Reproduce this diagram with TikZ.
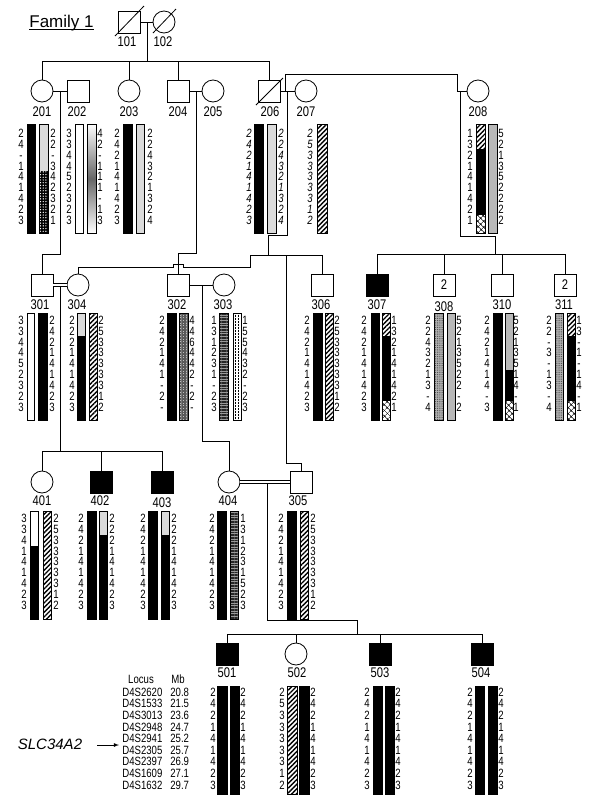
\documentclass[tikz,border=0pt]{standalone}
\usepackage{fontspec}
\usepackage{tikz}
\usetikzlibrary{patterns.meta}
\newfontfamily\narrowsans[FakeStretch=0.8]{Liberation Sans}
\newfontfamily\plainsans{Liberation Sans}
% one column of allele numbers: [style]{name}{x}{first row}{row step}{values}
\newcommand{\alcol}[6][]{%
	\foreach \a [count=\i from 0] in {#6}
		\node[allele,#1] (#2-\i) at (#3,{#4+#5*\i}) {\a};}

\begin{document}
\begin{tikzpicture}[x=1pt,y=-1pt,line width=0.8pt]
		\tikzset{> = latex}
		\tikzset{
			male/.style = {draw, rectangle, minimum size=22pt, inner sep=0pt, line width=0.8pt},
			female/.style = {draw, circle, minimum size=22pt, inner sep=0pt, line width=0.8pt},
			aff/.style = {fill=black},
			idlabel/.style = {font=\narrowsans\fontsize{14}{14}\selectfont, inner sep=0pt, text height=10pt, text depth=0pt},
			allele/.style = {font=\narrowsans\fontsize{12}{12}\selectfont, inner sep=0pt, text height=8.6pt, text depth=0pt},
			inferred/.style = {font=\narrowsans\itshape\fontsize{12}{12}\selectfont},
			locus/.style = {font=\narrowsans\fontsize{12}{12}\selectfont, inner sep=0pt, text height=8.6pt, text depth=0pt},
			hapbar/.style = {draw, line width=0.6pt},
			blk/.style = {fill=black},
			greybar/.style = {fill=black!28},
			stip/.style = {preaction={fill=black!10}, pattern={Dots[radius=0.45pt,distance=2pt]}, pattern color=black!55},
			dstip/.style = {preaction={fill=black!30}, pattern={Dots[radius=0.5pt,distance=1.8pt]}, pattern color=black!75},
			spot/.style = {preaction={fill=black}, pattern={Dots[radius=0.7pt,distance=2.7pt]}, pattern color=white},
			mesh/.style = {preaction={fill=black!25}, pattern={Hatch[distance=1.6pt,line width=0.4pt]}, pattern color=black!65},
			hline/.style = {preaction={fill=black!40}, pattern={Lines[angle=0,distance=1.6pt,line width=0.5pt]}, pattern color=black!85},
			hatch/.style = {preaction={fill=white}, pattern={Lines[angle=45,distance=3.3pt,line width=1.4pt]}},
			xcell/.style = {preaction={fill=white}, pattern={Hatch[angle=45,distance=4pt,line width=0.6pt]}}
		}
		\fill[white] (0,0) rectangle (592,801);
		\useasboundingbox (0,0) rectangle (592,801);

		\node[font=\plainsans\fontsize{17}{17}\selectfont, anchor=base west, inner sep=0pt] (title) at (29,27) {Family 1};
		\draw[line width=0.7pt] ([yshift=-2.5pt]title.base west) -- ([yshift=-2.5pt]title.base east);

		% generation I
		\node[male] (i101) at (129,22) {};
		\node[female] (i102) at (164,22) {};
		\draw (115,36) -- (144,6);
		\draw (153,33) -- (176,9);
		\node[idlabel] (l101) at (127,41) {101};
		\node[idlabel] (l102) at (163,41) {102};
		\draw (i101) -- (i102);
		\coordinate (m101) at (147,22);
		\coordinate (s101) at (147,61);
		\draw (m101) -- (s101);

		% generation II
		\node[female] (i201) at (42,91) {};
		\node[male] (i202) at (78,91) {};
		\node[female] (i203) at (129,91) {};
		\node[male] (i204) at (178,91) {};
		\node[female] (i205) at (213,91) {};
		\node[male] (i206) at (269,91) {};
		\node[female] (i207) at (306,91) {};
		\node[female] (i208) at (478,91) {};
		\draw (256,105) -- (283,78);
		\foreach \n/\x in {201/42,202/77,203/129,204/178,205/213,206/270,207/306,208/478}
			\node[idlabel] (l\n) at (\x,111) {\n};
		\draw (s101 -| i201) -- (s101 -| i206);
		\foreach \n in {201,203,204,206}
			\draw (s101 -| i\n) -- (i\n.north);

		% generation III
		\node[male] (i301) at (42,285) {};
		\node[female] (i304) at (78,285) {};
		\node[male] (i302) at (178,285) {};
		\node[female] (i303) at (224,285) {};
		\node[male] (i306) at (322,285) {};
		\node[male,aff] (i307) at (377,285) {};
		\node[male,font=\narrowsans\fontsize{14}{14}\selectfont] (i308) at (444,285) {2};
		\node[male] (i310) at (502,285) {};
		\node[male,font=\narrowsans\fontsize{14}{14}\selectfont] (i311) at (565,285) {2};
		\foreach \n/\x/\y in {301/40/304,304/77/304,302/177/304,303/223/304,306/321/304,307/377/304,308/444/306,310/502/304,311/564/304}
			\node[idlabel] (l\n) at (\x,\y) {\n};

		% generation IV
		\node[female] (i401) at (42,482) {};
		\node[male,aff] (i402) at (101,482) {};
		\node[male,aff] (i403) at (162,482) {};
		\node[female] (i404) at (229,482) {};
		\node[male] (i305) at (301,482) {};
		\foreach \n/\x/\y in {401/42/500,402/100/500,403/162/502,404/228/500,305/298/500}
			\node[idlabel] (l\n) at (\x,\y) {\n};

		% generation V
		\node[male,aff] (i501) at (227,654) {};
		\node[female] (i502) at (296,654) {};
		\node[male,aff] (i503) at (380,654) {};
		\node[male,aff] (i504) at (482,654) {};
		\foreach \n/\x in {501/227,502/297,503/380,504/481}
			\node[idlabel] (l\n) at (\x,672) {\n};

		% lines of descent
		\draw (i201) -- (i202);
		\coordinate (m201) at (60,91);
		\draw (m201) -- (60,254) -| (i301.north);
		\draw (i204) -- (i205);
		\coordinate (m204) at (196,91);
		\draw (m204) -- (196,253) -| (i302.north);
		\draw (i206) -- (i207);
		\coordinate (m206) at (287,91);
		\coordinate (s206) at (268,255);
		\draw (m206) -- (287,235) -| (s206);
		\coordinate (s206a) at (250,255);
		\draw (s206a) -- (s206 -| i306) -- (i306.north);
		\draw (s206a) -- (250,267) -- (183,267) -- (183,264) -- (173,264) -- (173,267) -| (i304.north);
		\coordinate (s305) at (286,255);
		\draw (s305) -- (286,463) -| (i305.north);
		\coordinate (m208) at (285,91);
		\draw (m208) -- (285,74) -| (457,91) -- (i208);
		\coordinate (m208b) at (460,91);
		\coordinate (s208) at (495,254);
		\draw (m208b) -- (460,236) -| (s208);
		\draw (s208 -| i307) -- (s208 -| i311);
		\foreach \n in {307,308,310,311}
			\draw (s208 -| i\n) -- (i\n.north);
		\draw[double, double distance=2.2pt, line width=0.7pt] (i301) -- (i304);
		\coordinate (m301) at (60,287);
		\coordinate (s301) at (60,451);
		\draw (m301) -- (s301);
		\draw (s301 -| i401) -- (s301 -| i403);
		\foreach \n in {401,402,403}
			\draw (s301 -| i\n) -- (i\n.north);
		\draw (i302) -- (i303);
		\coordinate (m302) at (202,285);
		\draw (m302) -- (202,441) -| (i404.north);
		\draw[double, double distance=2.2pt, line width=0.7pt] (i404) -- (i305);
		\coordinate (m404) at (267,484);
		\coordinate (s404) at (357,634);
		\draw (m404) -- (267,620) -| (s404);
		\draw (s404 -| i501) -- (s404 -| i504);
		\foreach \n in {501,502,503,504}
			\draw (s404 -| i\n) -- (i\n.north);

		% haplotypes, generation II
		\draw[hapbar,blk] (27,124) rectangle (35,233);
		\fill[stip] (39,124) rectangle (48,171);
		\fill[spot] (39,171) rectangle (48,233);
		\draw[hapbar] (39,124) rectangle (48,233);
		\alcol{a201L}{21}{133}{10.9}{2,4,-,1,4,1,4,2,3}
		\alcol{a201R}{53}{133}{10.9}{2,2,-,3,4,2,3,2,1}
		\draw[hapbar] (75,124) rectangle (83,233);
		\shade[top color=white, bottom color=white, middle color=black!60] (87,124) rectangle (96,233);
		\draw[hapbar] (87,124) rectangle (96,233);
		\alcol{a202L}{69}{133}{10.9}{3,3,4,4,5,2,3,2,3}
		\alcol{a202R}{100}{133}{10.9}{4,2,-,1,1,1,-,1,3}
		\draw[hapbar,blk] (123,124) rectangle (132,233);
		\draw[hapbar,stip] (136,124) rectangle (144,233);
		\alcol{a203L}{117}{133}{10.9}{2,4,2,1,4,1,4,2,3}
		\alcol{a203R}{150}{133}{10.9}{2,2,4,3,2,1,3,2,4}
		\draw[hapbar,blk] (254,124) rectangle (263,233);
		\draw[hapbar,stip] (267,124) rectangle (276,233);
		\alcol[inferred]{a206L}{249}{133}{10.9}{2,4,2,1,4,1,4,2,3}
		\alcol[inferred]{a206R}{281}{133}{10.9}{2,2,4,3,2,1,3,2,4}
		\draw[hapbar,hatch] (317,124) rectangle (327,233);
		\alcol[inferred]{a207L}{310}{133}{10.9}{2,5,3,3,3,3,3,1,2}
		\fill[hatch] (476,124) rectangle (485,149);
		\fill[blk] (476,149) rectangle (485,215);
		\fill[xcell] (476,215) rectangle (485,233);
		\draw[hapbar] (476,124) rectangle (485,233);
		\draw[hapbar,greybar] (488,124) rectangle (497,233);
		\alcol{a208L}{470}{133}{10.9}{1,3,2,1,4,1,4,2,1}
		\alcol{a208R}{501}{133}{10.9}{5,2,1,3,5,2,2,2,2}

		% haplotypes, generation III
		\draw[hapbar] (27,313) rectangle (34,420);
		\draw[hapbar,blk] (38,313) rectangle (47,420);
		\alcol{a301L}{21}{320}{10.85}{3,3,4,4,5,2,3,2,3}
		\alcol{a301R}{52}{320}{10.85}{2,4,2,1,4,1,4,2,3}
		\fill[stip] (77,313) rectangle (85,336);
		\fill[blk] (77,336) rectangle (85,420);
		\draw[hapbar] (77,313) rectangle (85,420);
		\draw[hapbar,hatch] (89,313) rectangle (97,420);
		\alcol{a304L}{72}{320}{10.85}{2,2,2,1,4,1,4,2,3}
		\alcol{a304R}{101}{320}{10.85}{2,5,3,3,3,3,3,1,2}
		\draw[hapbar,blk] (167,313) rectangle (176,420);
		\draw[hapbar,mesh] (179,313) rectangle (188,420);
		\alcol{a302L}{162}{320}{10.85}{2,4,2,1,4,1,-,2,-}
		\alcol{a302R}{192}{320}{10.85}{4,4,6,4,4,2,-,2,-}
		\draw[hapbar,hline] (219,313) rectangle (228,420);
		\draw[hapbar] (233,313) rectangle (241,420);
		\draw[densely dotted, line width=0.5pt] (235.7,313) -- (235.7,420) (238.3,313) -- (238.3,420);
		\alcol{a303L}{214}{320}{10.85}{1,3,1,2,3,1,-,2,3}
		\alcol{a303R}{245}{320}{10.85}{1,5,5,4,3,2,-,2,3}
		\draw[hapbar,blk] (313,313) rectangle (322,420);
		\draw[hapbar,hatch] (325,313) rectangle (333,420);
		\alcol{a306L}{307}{320}{10.85}{2,4,2,1,4,1,4,2,3}
		\alcol{a306R}{337}{320}{10.85}{2,5,3,3,3,3,3,1,2}
		\draw[hapbar,blk] (371,313) rectangle (379,420);
		\fill[hatch] (382,313) rectangle (390,336);
		\fill[blk] (382,336) rectangle (390,401);
		\fill[xcell] (382,401) rectangle (390,420);
		\draw[hapbar] (382,313) rectangle (390,420);
		\alcol{a307L}{364}{320}{10.85}{2,4,2,1,4,1,4,2,3}
		\alcol{a307R}{394}{320}{10.85}{1,3,2,1,4,1,4,2,1}
		\draw[hapbar,dstip] (434,313) rectangle (443,420);
		\draw[hapbar,greybar] (447,313) rectangle (455,420);
		\alcol{a308L}{428}{320}{10.85}{2,2,4,3,2,1,3,-,4}
		\alcol{a308R}{459}{320}{10.85}{5,2,1,3,5,2,2,-,2}
		\draw[hapbar,blk] (493,313) rectangle (502,420);
		\fill[greybar] (505,313) rectangle (513,370);
		\fill[blk] (505,370) rectangle (513,401);
		\fill[xcell] (505,401) rectangle (513,420);
		\draw[hapbar] (505,313) rectangle (513,420);
		\alcol{a310L}{487}{320}{10.85}{2,4,2,1,4,1,4,-,3}
		\alcol{a310R}{516}{320}{10.85}{5,2,1,3,5,1,4,-,1}
		\draw[hapbar,dstip] (555,313) rectangle (563,420);
		\fill[hatch] (567,313) rectangle (575,336);
		\fill[blk] (567,336) rectangle (575,401);
		\fill[xcell] (567,401) rectangle (575,420);
		\draw[hapbar] (567,313) rectangle (575,420);
		\alcol{a311L}{549}{320}{10.85}{2,2,-,3,-,1,3,-,4}
		\alcol{a311R}{579}{320}{10.85}{1,3,-,1,-,1,4,-,1}

		% haplotypes, generation IV
		\fill[blk] (30,546) rectangle (38,619);
		\draw[hapbar] (30,511) rectangle (38,619);
		\draw[hapbar,hatch] (43,511) rectangle (51,619);
		\alcol{a401L}{24}{518}{10.9}{3,3,4,1,4,1,4,2,3}
		\alcol{a401R}{56}{518}{10.9}{2,5,3,3,3,3,3,1,2}
		\draw[hapbar,blk] (87,511) rectangle (96,619);
		\fill[stip] (99,511) rectangle (107,535);
		\fill[blk] (99,535) rectangle (107,619);
		\draw[hapbar] (99,511) rectangle (107,619);
		\alcol{a402L}{81}{518}{10.9}{2,4,2,1,4,1,4,2,3}
		\alcol{a402R}{112}{518}{10.9}{2,2,2,1,4,1,4,2,3}
		\draw[hapbar,blk] (148,511) rectangle (157,619);
		\fill[stip] (161,511) rectangle (169,535);
		\fill[blk] (161,535) rectangle (169,619);
		\draw[hapbar] (161,511) rectangle (169,619);
		\alcol{a403L}{143}{518}{10.9}{2,4,2,1,4,1,4,2,3}
		\alcol{a403R}{174}{518}{10.9}{2,2,2,1,4,1,4,2,3}
		\draw[hapbar,blk] (217,511) rectangle (226,619);
		\draw[hapbar,hline] (230,511) rectangle (238,619);
		\alcol{a404L}{212}{518}{10.9}{2,4,2,1,4,1,4,2,3}
		\alcol{a404R}{243}{518}{10.9}{1,3,1,2,3,1,5,2,3}
		\draw[hapbar,blk] (287,511) rectangle (296,619);
		\draw[hapbar,hatch] (300,511) rectangle (308,619);
		\alcol{a305L}{281}{518}{10.9}{2,4,2,1,4,1,4,2,3}
		\alcol{a305R}{313}{518}{10.9}{2,5,3,3,3,3,3,1,2}

		% haplotypes, generation V
		\draw[hapbar,blk] (217,686) rectangle (227,794);
		\draw[hapbar,blk] (230,686) rectangle (239,794);
		\alcol{a501L}{213}{692}{11.6}{2,4,2,1,4,1,4,2,3}
		\alcol{a501R}{243}{692}{11.6}{2,4,2,1,4,1,4,2,3}
		\draw[hapbar,hatch] (287,686) rectangle (297,794);
		\draw[hapbar,blk] (299,686) rectangle (309,794);
		\alcol{a502L}{282}{692}{11.6}{2,5,3,3,3,3,3,1,2}
		\alcol{a502R}{313}{692}{11.6}{2,4,2,1,4,1,4,2,3}
		\draw[hapbar,blk] (373,686) rectangle (382,794);
		\draw[hapbar,blk] (385,686) rectangle (394,794);
		\alcol{a503L}{367}{692}{11.6}{2,4,2,1,4,1,4,2,3}
		\alcol{a503R}{398}{692}{11.6}{2,4,2,1,4,1,4,2,3}
		\draw[hapbar,blk] (475,686) rectangle (484,794);
		\draw[hapbar,blk] (488,686) rectangle (497,794);
		\alcol{a504L}{470}{692}{11.6}{2,4,2,1,4,1,4,2,3}
		\alcol{a504R}{501}{692}{11.6}{2,4,2,1,4,1,4,2,3}

		% marker table
		\node[locus] (hlocus) at (141,679.5) {Locus};
		\node[locus] (hmb) at (178,679.5) {Mb};
		\foreach \loc/\mb [count=\i from 0] in {D4S2620/20.8,D4S1533/21.5,D4S3013/23.6,D4S2948/24.7,D4S2941/25.2,D4S2305/25.7,D4S2397/26.9,D4S1609/27.1,D4S1632/29.7}
		{
			\node[locus, anchor=west] (loc\i) at (122,{692+11.6*\i}) {\loc};
			\node[locus, anchor=west] (mb\i) at (170,{692+11.6*\i}) {\mb};
		}
		\node[font=\plainsans\itshape\fontsize{15}{15}\selectfont, inner sep=0pt] (gene) at (50,744) {SLC34A2};
		\coordinate (arrS) at (97,745);
		\coordinate (arrE) at (119,745);
		\draw[->] (arrS) -- (arrE);
	\end{tikzpicture}
\end{document}
